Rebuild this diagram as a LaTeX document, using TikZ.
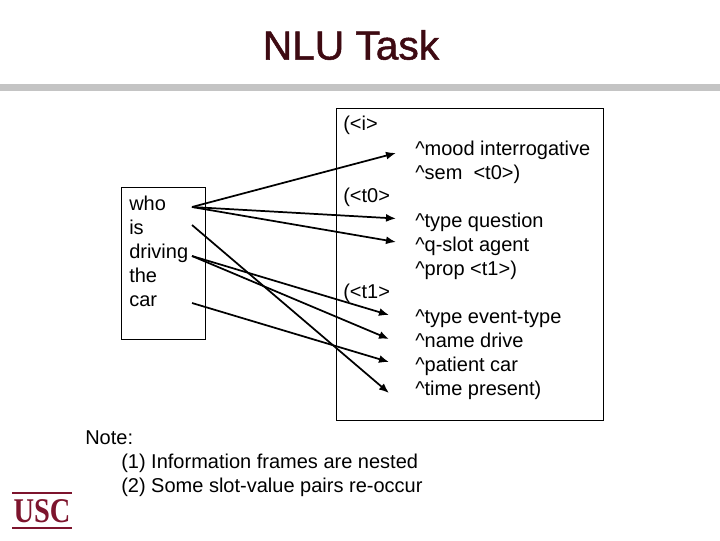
\documentclass[tikz,border=0pt]{standalone}
\usepackage{fontspec}
\setmainfont{Liberation Sans}
\newfontfamily\logofont{Liberation Serif}
\newfontfamily\titlefont[FakeBold=1.2]{Liberation Sans}
\usetikzlibrary{arrows.meta}
\definecolor{titlered}{RGB}{62,10,18}
\definecolor{logored}{RGB}{125,20,45}
\definecolor{bargray}{RGB}{196,196,196}
\tikzset{
  slide text/.style={anchor=north west,inner sep=0pt,align=left,font=\fontsize{15}{18}\selectfont},
  frame box/.style={draw,line width=0.75pt},
  word arrow/.style={line width=1.3pt,-{Latex[length=7.5pt,width=6pt]}},
}
\begin{document}
\begin{tikzpicture}[x=0.75pt,y=-0.75pt]
        \useasboundingbox (0,0) rectangle (720,540);
        %title and the bar under it
        \node[text=titlered,font=\titlefont\fontsize{30.5}{36}\selectfont] (title) at (351,45) {NLU Task};
        \fill[bargray] (0,84) rectangle (720,91);

        %the two boxes
        \draw[frame box] (121,187) rectangle (205.5,339);
        \draw[frame box] (336.5,108) rectangle (603,420);

        %sentence
        \node[slide text] (sentence) at (129,196) {who\\is\\driving\\the\\car};

        %frames
        \node[slide text] (framei) at (343,116) {(<i>};
        \node[slide text] (mood) at (415,141) {\^{}mood interrogative\\\^{}sem~~<t0>)};
        \node[slide text] (framezero) at (343,188) {(<t0>};
        \node[slide text] (slots) at (415,213) {\^{}type question\\\^{}q-slot agent\\\^{}prop <t1>)};
        \node[slide text] (frameone) at (343,284) {(<t1>};
        \node[slide text] (event) at (415,309) {\^{}type event-type\\\^{}name drive\\\^{}patient car\\\^{}time present)};

        %note
        \node[slide text] (note) at (85,430) {Note:};
        \node[slide text] (items) at (121,454) {(1) Information frames are nested\\(2) Some slot-value pairs re-occur};

        %arrow ends
        \coordinate (who) at (192,207);
        \coordinate (is) at (192,225);
        \coordinate (driving) at (192,256);
        \coordinate (car) at (192,303);
        \coordinate (tomood) at (396,153);
        \coordinate (totype) at (396,218.5);
        \coordinate (toslot) at (396,242);
        \coordinate (toevent) at (389,315);
        \coordinate (toname) at (389,339);
        \coordinate (topatient) at (389,362);
        \coordinate (totime) at (389,393);

        \foreach \a/\b in {who/tomood,who/totype,who/toslot,is/totime,driving/toevent,driving/toname,car/topatient}
        \draw[word arrow] (\a) -- (\b);

        %logo
        \draw[logored,line width=1.5pt] (12,492.5) -- (72,492.5);
        \draw[logored,line width=1pt] (12,528) -- (72,528);
        \node[text=logored,inner sep=0pt,font=\logofont\bfseries\fontsize{26}{26}\selectfont,xscale=0.82] (logo) at (42,511) {USC};
\end{tikzpicture}
\end{document}
